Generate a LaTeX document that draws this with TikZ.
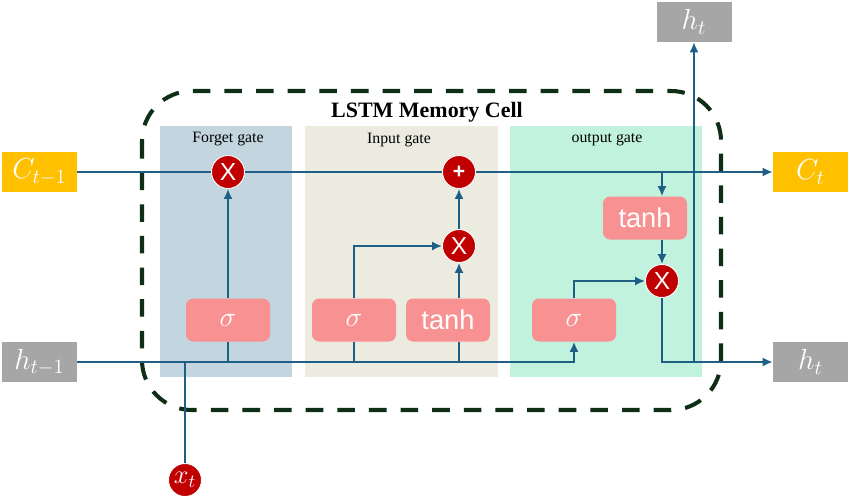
\RequirePackage{fix-cm}
\documentclass[tikz,border=0pt]{standalone}
\usepackage{fontspec}
\setmainfont{Liberation Serif}
\setsansfont{Liberation Sans}
\usepackage{tikz}
\usetikzlibrary{arrows.meta,positioning}
\definecolor{flow}{HTML}{1F5F86}
\definecolor{cellline}{HTML}{0F2E16}
\definecolor{forgetbg}{HTML}{C3D6E0}
\definecolor{inputbg}{HTML}{EBEBE0}
\definecolor{outputbg}{HTML}{C1F2DE}
\definecolor{actfill}{HTML}{F89292}
\definecolor{opfill}{HTML}{C00000}
\definecolor{cellstate}{HTML}{FFC000}
\definecolor{hidden}{HTML}{A6A6A6}

\begin{document}
\begin{tikzpicture}[
    act/.style={fill=actfill, rounded corners=4pt, minimum width=1.68cm, minimum height=0.86cm, text=white, font=\fontsize{16}{18}\selectfont},
    acttext/.style={act, font=\sffamily\fontsize{15.5}{17}\selectfont},
    op/.style={circle, fill=opfill, draw=white, line width=0.5pt, minimum size=0.66cm, inner sep=0pt, text=white, font=\sffamily\fontsize{14}{16}\selectfont},
    state/.style={fill=cellstate, minimum width=1.5cm, minimum height=0.8cm, text=white, font=\fontsize{16.5}{19}\selectfont},
    hid/.style={state, fill=hidden},
    gatelabel/.style={font=\fontsize{9}{11}\selectfont},
    wire/.style={flow, line width=1pt},
    arrow/.style={wire, -{Latex[length=2mm,width=1.8mm]}}
]
\useasboundingbox (0,0) rectangle (17,-9.98);

\fill[forgetbg] (3.2,-2.52) rectangle (5.84,-7.54);
\fill[inputbg] (6.1,-2.52) rectangle (9.96,-7.54);
\fill[outputbg] (10.2,-2.52) rectangle (14.04,-7.54);
\draw[cellline, line width=2.3pt, dash pattern=on 10pt off 8pt, rounded corners=1cm] (2.84,-1.82) rectangle (14.42,-8.2);

\node[font=\bfseries\fontsize{12.5}{14}\selectfont] (title) at (8.54,-2.24) {LSTM Memory Cell};
\node[gatelabel] (forgetlabel) at (4.56,-2.78) {Forget gate};
\node[gatelabel] (inputlabel) at (7.98,-2.8) {Input gate};
\node[gatelabel] (outputlabel) at (12.14,-2.8) {output gate};

\node[state] (cprev) at (0.79,-3.44) {$C_{t-1}$};
\node[hid] (hprev) at (0.79,-7.24) {$h_{t-1}$};
\node[state] (ct) at (16.21,-3.44) {$C_t$};
\node[hid] (hout) at (16.21,-7.24) {$h_t$};
\node[hid] (hup) at (13.88,-0.44) {$h_t$};

\node[op] (fmul) at (4.56,-3.44) {X};
\node[op, font=\sffamily\bfseries\fontsize{12}{14}\selectfont] (add) at (9.18,-3.44) {+};
\node[op] (imul) at (9.18,-4.92) {X};
\node[op] (omul) at (13.24,-5.62) {X};
\node[op, font=\fontsize{15}{17}\selectfont] (xt) at (3.7,-9.6) {$x_t$};

\node[act] (fsig) at (4.56,-6.4) {$\sigma$};
\node[act] (isig) at (7.08,-6.4) {$\sigma$};
\node[acttext] (itanh) at (8.96,-6.4) {tanh};
\node[acttext] (otanh) at (12.9,-4.36) {tanh};
\node[act] (osig) at (11.48,-6.4) {$\sigma$};

\draw[wire] (cprev.east) -- (fmul.west);
\draw[wire] (fmul.east) -- (add.west);
\draw[arrow] (add.east) -- (ct.west);
\draw[arrow] (hprev.east) -| (osig.south);
\draw[arrow] (fsig.north) -- (fmul.south);
\foreach \gate in {fsig,isig}
    \draw[wire] (\gate.south) -- (\gate |- hprev.east);
\draw[wire] (imul |- itanh.south) -- (imul |- hprev.east);
\draw[arrow] (imul |- itanh.north) -- (imul.south);
\draw[arrow] (isig.north) |- (imul.west);
\draw[arrow] (imul.north) -- (add.south);
\draw[wire] (xt.north) -- (xt |- hprev.east);
\draw[arrow] (omul |- ct.west) -- (omul |- otanh.north);
\draw[arrow] (omul |- otanh.south) -- (omul.north);
\draw[arrow] (osig.north) |- (omul.west);
\draw[arrow] (omul.south) |- (hout.west);
\coordinate (hsplit) at (hup |- hout.west);
\draw[arrow] (hsplit) -- (hup.south);
\end{tikzpicture}
\end{document}
